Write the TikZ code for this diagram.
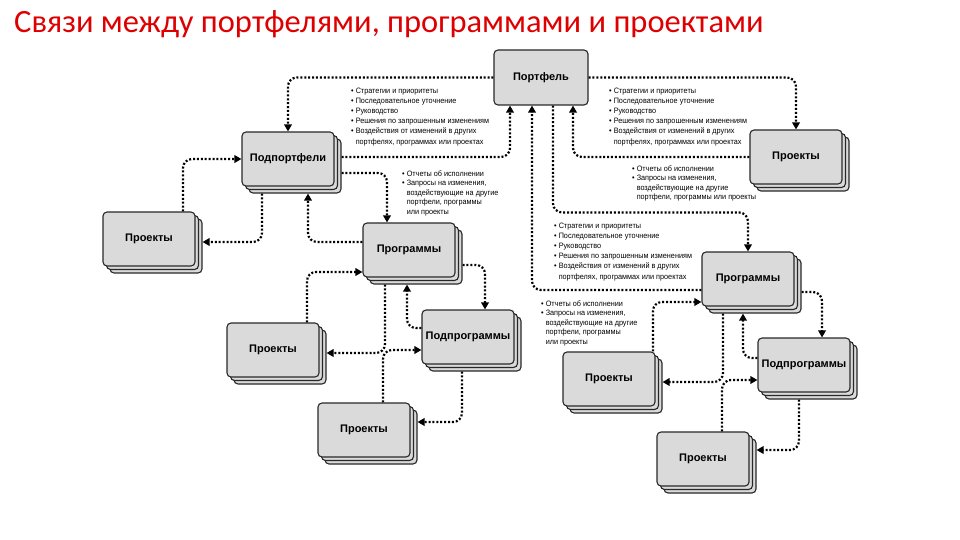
\documentclass[tikz,border=0pt]{standalone}
\usepackage{fontspec}
\setmainfont{Liberation Sans}
\newfontfamily\titlefont{Carlito}
\newfontfamily\smallfont{Liberation Sans}[FakeStretch=0.93]
\usetikzlibrary{arrows.meta,shadows,calc}
\definecolor{boxfill}{RGB}{218,218,218}
\definecolor{boxline}{RGB}{40,40,40}
\definecolor{titlered}{RGB}{222,0,0}
\tikzset{
  unit/.style={rounded corners=4pt, draw=boxline, line width=1.1pt, fill=boxfill,
    minimum width=92pt, minimum height=54pt, inner sep=1pt,
    font=\bfseries\fontsize{11}{13}\selectfont},
  stack/.style={unit, double copy shadow={shadow xshift=3.5pt, shadow yshift=-3.5pt,
    fill=boxfill, draw=boxline, line width=1.1pt}},
  link/.style={draw=black, line width=2.2pt, dash pattern=on 2pt off 1.9pt,
    rounded corners=9pt, -{Triangle[length=7pt,width=7.5pt]}},
  note/.style={anchor=north west, align=left, inner sep=0pt,
    font=\smallfont\fontsize{7.8}{10.2}\selectfont},
  notesm/.style={note, font=\smallfont\fontsize{7.8}{9.4}\selectfont}
}
\begin{document}
\begin{tikzpicture}[x=1pt,y=-1pt]
\useasboundingbox (0,0) rectangle (960,540);
\fill[white] (0,0) rectangle (960,540);

\node[anchor=base west, inner sep=0pt, text=titlered,
  font=\titlefont\fontsize{32.5}{34}\selectfont] (title) at (14,32.5)
  {Связи между портфелями, программами и проектами};

% boxes
\node[unit, minimum width=94pt, minimum height=55pt] (port) at (541,77.5) {Портфель};
\node[stack] (subp)  at (288,159) {Подпортфели};
\node[stack] (projL1) at (149,239) {Проекты};
\node[stack] (progL) at (409,250) {Программы};
\node[stack] (subpL) at (468,337) {Подпрограммы};
\node[stack] (projL2) at (273,350) {Проекты};
\node[stack] (projL3) at (364,430) {Проекты};
\node[stack] (projR1) at (796,157) {Проекты};
\node[stack] (progR) at (748,279) {Программы};
\node[stack] (subpR) at (804,365) {Подпрограммы};
\node[stack] (projR2) at (609,379) {Проекты};
\node[stack] (projR3) at (703,459) {Проекты};

% notes
\node[note] (nA) at (351,87.5) {• Стратегии и приоритеты\\• Последовательное уточнение\\• Руководство\\• Решения по запрошенным изменениям\\• Воздействия от изменений в других\\\phantom{• }портфелях, программах или проектах};
\node[note] (nB) at (609,87.5) {• Стратегии и приоритеты\\• Последовательное уточнение\\• Руководство\\• Решения по запрошенным изменениям\\• Воздействия от изменений в других\\\phantom{• }портфелях, программах или проектах};
\node[note] (nE) at (554,222.5) {• Стратегии и приоритеты\\• Последовательное уточнение\\• Руководство\\• Решения по запрошенным изменениям\\• Воздействия от изменений в других\\\phantom{• }портфелях, программах или проектах};
\node[notesm] (nC) at (402,170.5) {• Отчеты об исполнении\\• Запросы на изменения,\\\phantom{• }воздействующие на другие\\\phantom{• }портфели, программы\\\phantom{• }или проекты};
\node[notesm] (nD) at (632,165.5) {• Отчеты об исполнении\\• Запросы на изменения,\\\phantom{• }воздействующие на другие\\\phantom{• }портфели, программы или проекты};
\node[notesm] (nF) at (541,300.5) {• Отчеты об исполнении\\• Запросы на изменения,\\\phantom{• }воздействующие на другие\\\phantom{• }портфели, программы\\\phantom{• }или проекты};

% connectors
\draw[link] (port.west) -| (subp.north);
\draw[link] ($(subp.east)+(7,-2)$) -| ($(port.south)+(-31,0)$);
\draw[link] ($(progR.west)+(0,11)$) -| ($(port.south)+(-9,0)$);
\draw[link] ($(port.south)+(12,0)$) |- ($(progR.north)+(0,-39)$) -- (progR.north);
\draw[link] (projR1.west) -| ($(port.south)+(32,0)$);
\draw[link] (port.east) -| (projR1.north);

\draw[link] ($(projL1.north)+(34,0)$) |- (subp.west);
\draw[link] ($(subp.south)+(-26,7)$) |- ($(projL1.east)+(7,3)$);
\draw[link] ($(subp.east)+(7,14)$) -| ($(progL.north)+(-22,0)$);
\draw[link] ($(progL.west)+(0,-8)$) -| ($(subp.south)+(20,7)$);
\draw[link] ($(progL.east)+(7,15)$) -| ($(subpL.north)+(17,0)$);
\draw[link] ($(subpL.west)+(0,-9)$) -| ($(progL.south)+(-2,7)$);
\draw[link] ($(projL2.north)+(34,0)$) |- ($(progL.west)+(0,22)$);
\draw[link] ($(progL.south)+(-24,7)$) |- ($(projL2.east)+(7,3)$);
\draw[link] ($(projL3.north)+(19,0)$) |- ($(subpL.west)+(0,13)$);
\draw[link] ($(subpL.south)+(-6,7)$) |- ($(projL3.east)+(7,-8)$);

\draw[link] ($(projR2.north)+(44,0)$) |- ($(progR.west)+(0,23)$);
\draw[link] ($(progR.south)+(-25,7)$) |- ($(projR2.east)+(7,3)$);
\draw[link] ($(progR.east)+(7,13)$) -| ($(subpR.north)+(18,0)$);
\draw[link] ($(subpR.west)+(0,-7)$) -| ($(progR.south)+(-5,7)$);
\draw[link] ($(projR3.north)+(19,0)$) |- ($(subpR.west)+(0,15)$);
\draw[link] ($(subpR.south)+(-5,7)$) |- ($(projR3.east)+(7,-9)$);
\end{tikzpicture}
\end{document}
